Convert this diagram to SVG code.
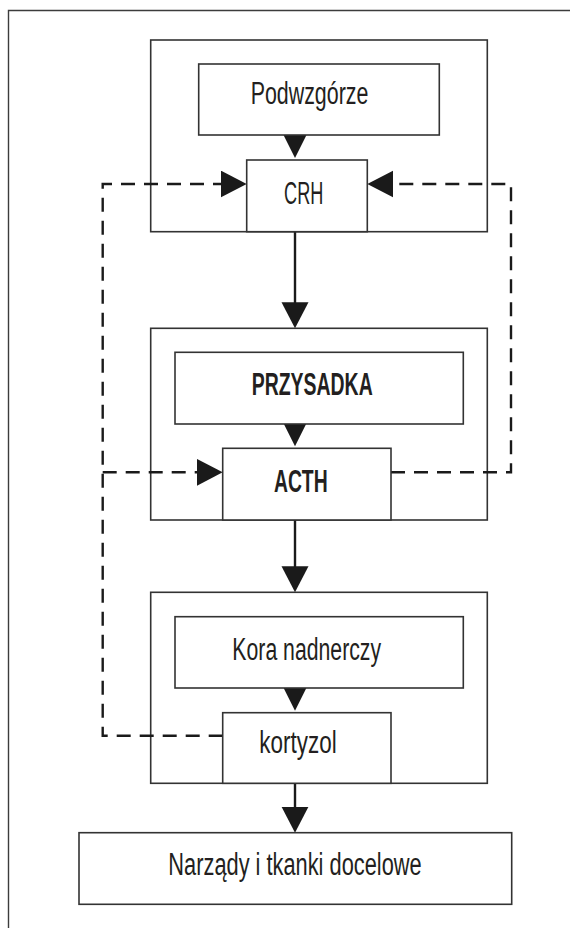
<svg xmlns="http://www.w3.org/2000/svg" width="570" height="928" viewBox="0 0 570 928">
<style>
.frame{fill:none;stroke:#3c3c3c;stroke-width:1.4}
.box{fill:#fff;stroke:#333;stroke-width:1.6}
.grp{fill:none;stroke:#333;stroke-width:1.6}
.t{font-family:"Liberation Sans Narrow","Liberation Sans",Arial,sans-serif;font-size:31px;fill:#231f20;text-anchor:middle}
.b{font-weight:bold}
.c{fill:none;stroke:#1a1a1a;stroke-width:2.4}
.d{fill:none;stroke:#1a1a1a;stroke-width:2.4;stroke-dasharray:14 9}
</style>
<defs>
<marker id="big" markerUnits="userSpaceOnUse" markerWidth="30" markerHeight="30" refX="2" refY="13.5" orient="auto">
<path d="M0,0 L26,13.5 L0,27 z" fill="#1a1a1a" stroke="none"/>
</marker>
<marker id="small" markerUnits="userSpaceOnUse" markerWidth="26" markerHeight="26" refX="2" refY="11.5" orient="auto">
<path d="M0,0 L23,11.5 L0,23 z" fill="#1a1a1a" stroke="none"/>
</marker>
</defs>
<rect width="570" height="928" fill="#fff"/>
<path class="frame" d="M8.5,930 V10.5 H572"/>

<g id="hypothalamus-group">
<rect class="grp" x="150.7" y="40" width="336.6" height="191.7"/>
</g>
<g id="pituitary-group">
<rect class="grp" x="150.7" y="328.3" width="336.6" height="191.7"/>
</g>
<g id="adrenal-group">
<rect class="grp" x="150.7" y="592.3" width="336.6" height="191"/>
</g>

<g id="connectors">
<path class="c" d="M295,135 V137" marker-end="url(#small)"/>
<path class="c" d="M295,231.7 V304.3" marker-end="url(#big)"/>
<path class="c" d="M295,424 V425.3" marker-end="url(#small)"/>
<path class="c" d="M295,520 V568.3" marker-end="url(#big)"/>
<path class="c" d="M295,688 V689.7" marker-end="url(#small)"/>
<path class="c" d="M295,783.3 V808.7" marker-end="url(#big)"/>
<path class="d" d="M222.7,735.7 H102.7 V184 H222.7" marker-end="url(#big)"/>
<path class="d" d="M102.7,472.3 H198.7" marker-end="url(#big)"/>
<path class="d" d="M391,472.3 H511 V184 H391.3" marker-end="url(#big)"/>
</g>

<g id="podwzgorze">
<rect class="box" x="198.7" y="64" width="240.6" height="71"/>
<text class="t" x="309.5" y="104.3" textLength="117.7" lengthAdjust="spacingAndGlyphs">Podwzgórze</text>
</g>
<g id="crh">
<rect class="box" x="246.7" y="160" width="120.6" height="71.7"/>
<text class="t" x="303.7" y="204" textLength="39.3" lengthAdjust="spacingAndGlyphs">CRH</text>
</g>
<g id="przysadka">
<rect class="box" x="175" y="352.3" width="288.3" height="71.7"/>
<text class="t b" x="312.2" y="395" textLength="121" lengthAdjust="spacingAndGlyphs">PRZYSADKA</text>
</g>
<g id="acth">
<rect class="box" x="222.7" y="448.3" width="168.3" height="71.7"/>
<text class="t b" x="300.8" y="491.7" textLength="53.7" lengthAdjust="spacingAndGlyphs">ACTH</text>
</g>
<g id="kora">
<rect class="box" x="175" y="616.7" width="288.3" height="71.3"/>
<text class="t" x="306.7" y="660" textLength="148.7" lengthAdjust="spacingAndGlyphs">Kora nadnerczy</text>
</g>
<g id="kortyzol">
<rect class="box" x="222.7" y="712.7" width="168.3" height="70.6"/>
<text class="t" x="298" y="753.3" textLength="77.3" lengthAdjust="spacingAndGlyphs">kortyzol</text>
</g>
<g id="narzady">
<rect class="box" x="79" y="832.7" width="432.7" height="71.6"/>
<text class="t" x="295" y="875" textLength="253.3" lengthAdjust="spacingAndGlyphs">Narządy i tkanki docelowe</text>
</g>
</svg>
